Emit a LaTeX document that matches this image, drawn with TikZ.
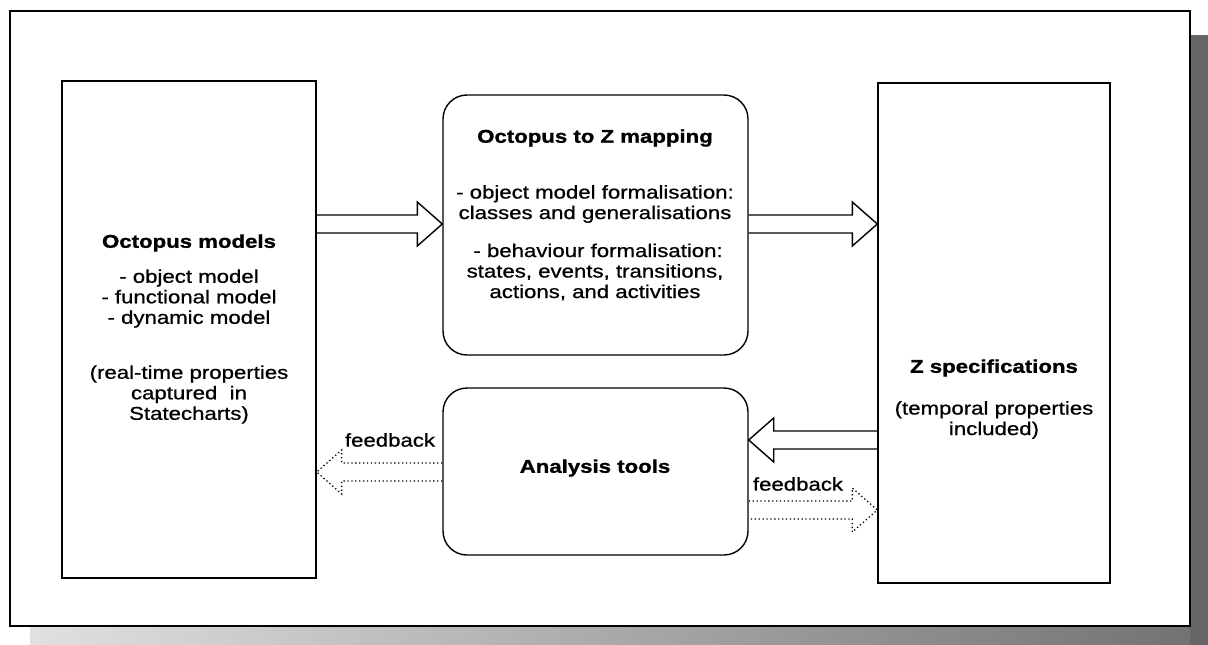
\documentclass[tikz,border=0pt]{standalone}
\usepackage{fontspec}
\setmainfont{Liberation Sans}[FakeStretch=1.2,
  UprightFeatures={FakeBold=0.8}, BoldFeatures={FakeBold=1.2}]
\usetikzlibrary{calc}

% right-pointing block arrow from the east side of #1 to the west side of #2, axis at y=#3
\newcommand\rightblock[4]{%
  \draw[#4] ($(#1.east |- 0,#3)+(0,-9)$) -- ($(#2.west |- 0,#3)+(-25,-9)$)
    -- ($(#2.west |- 0,#3)+(-25,-22)$) -- (#2.west |- 0,#3)
    -- ($(#2.west |- 0,#3)+(-25,22)$) -- ($(#2.west |- 0,#3)+(-25,9)$)
    -- ($(#1.east |- 0,#3)+(0,9)$);}
% left-pointing block arrow from the west side of #1 to the east side of #2, axis at y=#3
\newcommand\leftblock[4]{%
  \draw[#4] ($(#1.west |- 0,#3)+(0,-9)$) -- ($(#2.east |- 0,#3)+(25,-9)$)
    -- ($(#2.east |- 0,#3)+(25,-22)$) -- (#2.east |- 0,#3)
    -- ($(#2.east |- 0,#3)+(25,22)$) -- ($(#2.east |- 0,#3)+(25,9)$)
    -- ($(#1.west |- 0,#3)+(0,9)$);}

\tikzset{
  every node/.style={font=\fontsize{18.5}{20.5}\selectfont, inner sep=0pt, align=center},
  squarebox/.style={draw, line width=1.4pt},
  roundbox/.style={draw, line width=1.4pt, rounded corners=24pt},
  heading/.style={font=\fontsize{18.5}{20.5}\selectfont\bfseries},
  solidarrow/.style={line width=1.4pt, line join=miter},
  feedarrow/.style={line width=1.3pt, dash pattern=on 1.3pt off 2.6pt},
}

\begin{document}
\begin{tikzpicture}[x=1pt,y=-1pt]
\useasboundingbox (0,0) rectangle (1208,645);

% drop shadow and frame
\fill[black!60] (1190,35) rectangle (1208,645);
\shade[left color=black!12, right color=black!55] (30,627) rectangle (1190,645);
\draw[line width=1.5pt, fill=white] (10,11) rectangle (1190,626);
\draw[line width=2.4pt] (10,626) -- (1190,626);

% boxes
\node[squarebox, minimum width=254pt, minimum height=497pt] (octo) at (189,329.5) {};
\node[roundbox, minimum width=305pt, minimum height=260pt] (map) at (595.5,225) {};
\node[roundbox, minimum width=305pt, minimum height=167pt] (tools) at (595.5,471.5) {};
\node[squarebox, minimum width=232pt, minimum height=500pt] (zspec) at (994,333) {};

% texts
\node[heading] (octoT) at (189,243) {Octopus models};
\node (octoL) at (189,298.5) {- object model\\- functional model\\- dynamic model};
\node (octoN) at (189,394.5) {(real-time properties\\captured\ \ in\\Statecharts)};

\node[heading] (mapT) at (595,138) {Octopus to Z mapping};
\node (mapA) at (595,204) {- object model formalisation:\\classes and generalisations};
\node (mapB) at (595,272) {\ - behaviour formalisation:\\states, events, transitions,\\actions, and activities};

\node[heading] (zT) at (994,368) {Z specifications};
\node (zN) at (994,420) {(temporal properties\\included)};

\node[heading] (toolsT) at (595,468) {Analysis tools};

\node (fbL) at (390,440) {feedback};
\node (fbR) at (798,484) {feedback};

% connectors
\rightblock{octo}{map}{224}{solidarrow}
\rightblock{map}{zspec}{224}{solidarrow}
\leftblock{zspec}{tools}{440}{solidarrow}
\leftblock{tools}{octo}{472}{feedarrow}
\rightblock{tools}{zspec}{510}{feedarrow}
\end{tikzpicture}
\end{document}
